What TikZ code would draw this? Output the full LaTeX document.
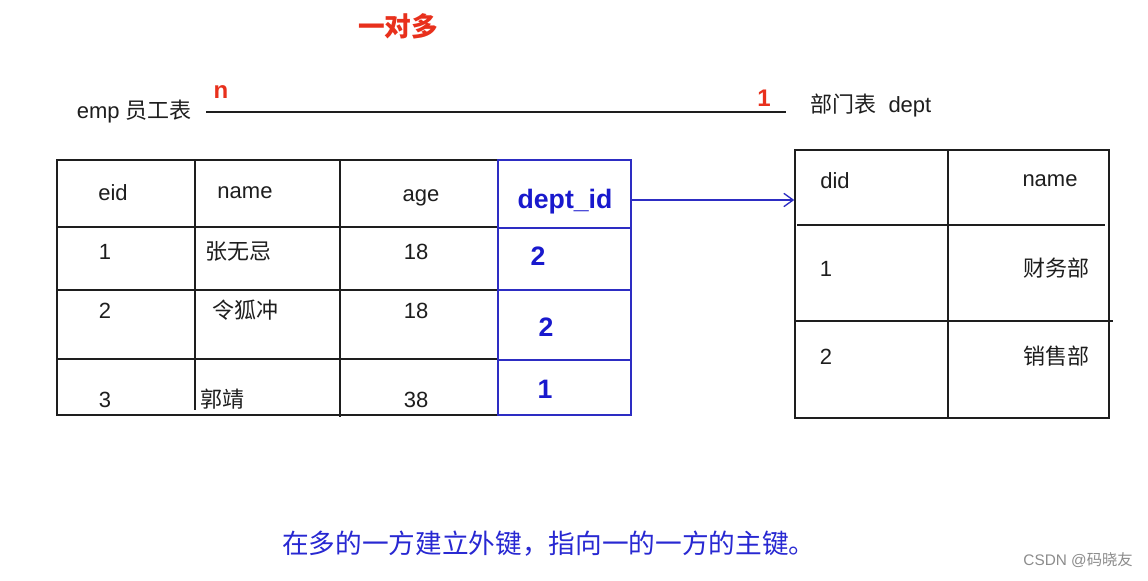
\documentclass[tikz,border=0pt]{standalone}
\usepackage{fontspec}
\setmainfont{Liberation Sans}
\newfontfamily\cjk{Noto Sans CJK SC}
\usetikzlibrary{arrows.meta}
\definecolor{fkblue}{RGB}{45,45,195}
\definecolor{txtblue}{RGB}{25,25,205}
\definecolor{captblue}{RGB}{40,40,210}
\definecolor{titlered}{RGB}{232,48,28}
\definecolor{ink}{RGB}{30,30,30}
\begin{document}
\begin{tikzpicture}[x=0.75pt,y=-0.75pt,
  txt/.style={inner sep=0pt, text=ink, font=\fontsize{16.5}{18}\selectfont},
  ctxt/.style={txt, font=\fontsize{16.5}{18}\selectfont\cjk},
  fktxt/.style={inner sep=0pt, text=txtblue, font=\fontsize{20}{22}\selectfont\bfseries},
  redtxt/.style={inner sep=0pt, text=titlered, font=\fontsize{18}{20}\selectfont\bfseries},
  grid/.style={draw=ink, line width=1.1pt},
  fkgrid/.style={draw=fkblue, line width=1.1pt},
  link/.style={draw=fkblue, line width=1pt, -{Straight Barb[length=7pt,width=10pt]}}
]
\useasboundingbox[fill=white] (0,0) rectangle (1148,581);

% title
\node[redtxt, font=\fontsize{20}{22}\selectfont\cjk\bfseries] (title) at (398,26) {一对多};

% relation line
\node[txt, anchor=east] (emplbl) at (192,112) {emp {\cjk 员工表}};
\node[txt, anchor=west] (deptlbl) at (810,106) {{\cjk 部门表} \ dept};
\coordinate (l1) at (206,112);
\coordinate (l2) at (786,112);
\draw[draw=ink, line width=1.1pt] (l1) -- (l2);
\node[redtxt] (nlbl) at (221,92) {n};
\node[redtxt] (onelbl) at (764,98) {1};

% emp table (black part)
\draw[grid] (498,160) -- (57,160) -- (57,415) -- (498,415);
\draw[grid] (195,160) -- (195,410);
\draw[grid] (340,160) -- (340,417);
\draw[grid] (57,227) -- (498,227);
\draw[grid] (57,290) -- (498,290);
\draw[grid] (57,359) -- (498,359);

% dept_id column (blue)
\node[fkgrid, minimum width=99.75pt, minimum height=191.25pt, inner sep=0pt] (fkcol) at (564.5,287.5) {};
\draw[fkgrid] (498,228) -- (631,228);
\draw[fkgrid] (498,290) -- (631,290);
\draw[fkgrid] (498,360) -- (631,360);

% emp texts
\node[txt] (h1) at (113,193) {eid};
\node[txt] (h2) at (245,193) {name};
\node[txt] (h3) at (421,198) {age};
\node[fktxt] (h4) at (565,202) {dept\_id};

\node[txt] (r1a) at (105,252) {1};
\node[ctxt] (r1b) at (238,251) {张无忌};
\node[txt] (r1c) at (416,252) {18};
\node[fktxt] (r1d) at (538,256) {2};

\node[txt] (r2a) at (105,311) {2};
\node[ctxt] (r2b) at (245,310) {令狐冲};
\node[txt] (r2c) at (416,311) {18};
\node[fktxt] (r2d) at (546,327) {2};

\node[txt] (r3a) at (105,400) {3};
\node[ctxt] (r3b) at (222,399) {郭靖};
\node[txt] (r3c) at (416,400) {38};
\node[fktxt] (r3d) at (545,389) {1};

% dept table
\node[grid, minimum width=235.5pt, minimum height=201pt, inner sep=0pt] (depttab) at (952,284) {};
\draw[grid] (948,150) -- (948,418);
\draw[grid] (797,225) -- (1105,225);
\draw[grid] (795,321) -- (1113,321);

\node[txt] (d1) at (835,181) {did};
\node[txt] (d2) at (1050,181) {name};
\node[txt] (d3) at (826,269) {1};
\node[ctxt] (d4) at (1056,268) {财务部};
\node[txt] (d5) at (826,357) {2};
\node[ctxt] (d6) at (1056,356) {销售部};

% foreign key arrow
\coordinate (ay) at (0,200);
\draw[link] (fkcol.east |- ay) -- (depttab.west |- ay);

% caption
\node[inner sep=0pt, anchor=west, text=captblue, font=\fontsize{20}{22}\selectfont\cjk] (cap) at (282,544) {在多的一方建立外键，指向一的一方的主键。};

% watermark
\node[inner sep=0pt, anchor=east, text=black!45, font=\fontsize{11.5}{13}\selectfont] (wm) at (1133,560) {CSDN @{\cjk 码晓友}};
\end{tikzpicture}
\end{document}
